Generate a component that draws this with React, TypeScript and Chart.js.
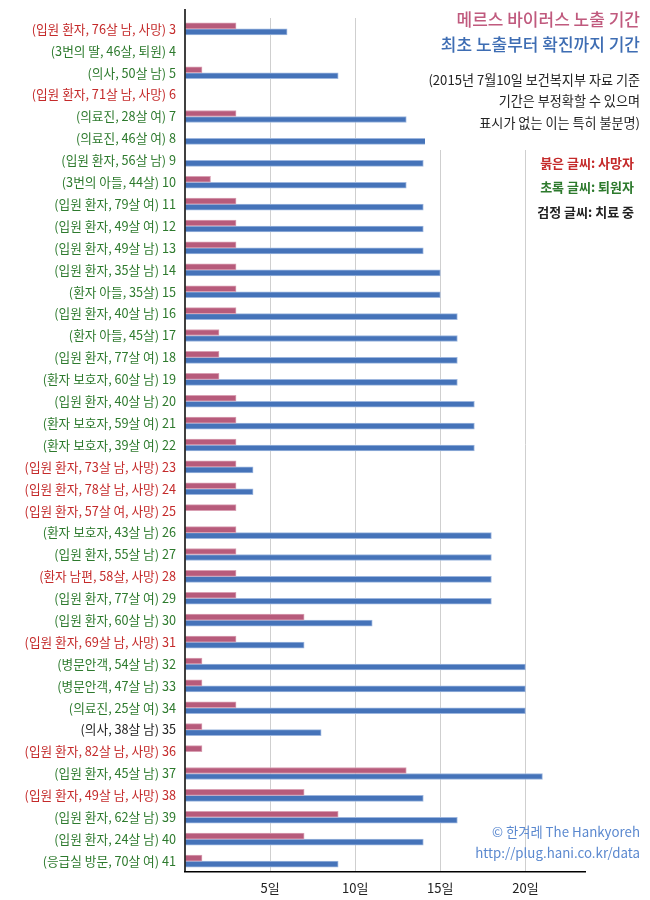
import React, { useEffect, useRef } from "react";
import { Chart, registerables } from "chart.js";

Chart.register(...registerables);

const caseNumbers = [3,4,5,6,7,8,9,10,11,12,13,14,15,16,17,18,19,20,21,22,23,24,25,26,27,28,29,30,31,32,33,34,35,36,37,38,39,40,41];
const descriptions = [
  "(입원 환자, 76살 남, 사망)", "(3번의 딸, 46살, 퇴원)", "(의사, 50살 남)", "(입원 환자, 71살 남, 사망)",
  "(의료진, 28살 여)", "(의료진, 46살 여)", "(입원 환자, 56살 남)", "(3번의 아들, 44살)",
  "(입원 환자, 79살 여)", "(입원 환자, 49살 여)", "(입원 환자, 49살 남)", "(입원 환자, 35살 남)",
  "(환자 아들, 35살)", "(입원 환자, 40살 남)", "(환자 아들, 45살)", "(입원 환자, 77살 여)",
  "(환자 보호자, 60살 남)", "(입원 환자, 40살 남)", "(환자 보호자, 59살 여)", "(환자 보호자, 39살 여)",
  "(입원 환자, 73살 남, 사망)", "(입원 환자, 78살 남, 사망)", "(입원 환자, 57살 여, 사망)", "(환자 보호자, 43살 남)",
  "(입원 환자, 55살 남)", "(환자 남편, 58살, 사망)", "(입원 환자, 77살 여)", "(입원 환자, 60살 남)",
  "(입원 환자, 69살 남, 사망)", "(병문안객, 54살 남)", "(병문안객, 47살 남)", "(의료진, 25살 여)",
  "(의사, 38살 남)", "(입원 환자, 82살 남, 사망)", "(입원 환자, 45살 남)", "(입원 환자, 49살 남, 사망)",
  "(입원 환자, 62살 남)", "(입원 환자, 24살 남)", "(응급실 방문, 70살 여)",
];
// d = 사망자 (red), r = 퇴원자 (green), t = 치료 중 (black)
const statuses = [
  "d","r","r","d","r","r","r","r","r","r","r","r","r","r","r","r","r","r","r","r",
  "d","d","d","r","r","d","r","r","d","r","r","r","t","d","r","d","r","r","r",
];
const exposureDays = [3,null,1,null,3,null,null,1.5,3,3,3,3,3,3,2,2,2,3,3,3,3,3,3,3,3,3,3,7,3,1,1,3,1,1,13,7,9,7,1];
const confirmDays = [6,null,9,null,13,17,14,13,14,14,14,15,15,16,16,16,16,17,17,17,4,4,null,18,18,18,18,11,7,20,20,20,8,null,21,14,16,14,9];
const xTicks = [0, 5, 10, 15, 20];

const seriesNames = ["메르스 바이러스 노출 기간", "최초 노출부터 확진까지 기간"];
const noteLines = ["(2015년 7월10일 보건복지부 자료 기준", "기간은 부정확할 수 있으며", "표시가 없는 이는 특히 불분명)"];
const legendLines = ["붉은 글씨: 사망자", "초록 글씨: 퇴원자", "검정 글씨: 치료 중"];
const creditLines = ["© 한겨레 The Hankyoreh", "http://plug.hani.co.kr/data"];

const statusColor: Record<string, string> = { d: "#c42a2a", r: "#2d7a2d", t: "#222222" };
const FONT = "'Noto Sans CJK KR', 'Noto Sans', sans-serif";

const overlayPlugin = {
  id: "overlay",
  afterDraw(chart: any) {
    const ctx = chart.ctx;
    const area = chart.chartArea;
    ctx.save();
    // left axis line
    ctx.strokeStyle = "#000";
    ctx.lineWidth = 1.5;
    ctx.beginPath();
    ctx.moveTo(area.left, 9);
    ctx.lineTo(area.left, area.bottom);
    ctx.stroke();
    // white box behind the notes
    ctx.fillStyle = "#fff";
    ctx.fillRect(425, 0, 225, 150);
    ctx.textAlign = "right";
    ctx.textBaseline = "middle";
    ctx.font = `500 17px ${FONT}`;
    ctx.fillStyle = "#c05a7e";
    ctx.fillText(seriesNames[0], 640, 20);
    ctx.fillStyle = "#3e6db3";
    ctx.fillText(seriesNames[1], 640, 45);
    ctx.font = `13.1px ${FONT}`;
    ctx.fillStyle = "#222";
    noteLines.forEach((t, i) => ctx.fillText(t, 640, 80 + i * 21.5));
    ctx.font = `bold 13px ${FONT}`;
    const lc = ["#c42a2a", "#2d7a2d", "#222"];
    legendLines.forEach((t, i) => {
      ctx.fillStyle = lc[i];
      ctx.fillText(t, 634, 163 + i * 24.5);
    });
    ctx.font = `13.3px ${FONT}`;
    ctx.fillStyle = "#5a88cf";
    creditLines.forEach((t, i) => ctx.fillText(t, 640, 832 + i * 21));
    ctx.restore();
  },
};

export default function App() {
  const ref = useRef<HTMLCanvasElement>(null);
  useEffect(() => {
    const labels = caseNumbers.map((n, i) => `${descriptions[i]} ${n}`);
    const chart = new Chart(ref.current as HTMLCanvasElement, {
      type: "bar",
      data: {
        labels,
        datasets: [
          {
            label: seriesNames[0],
            data: exposureDays as any,
            backgroundColor: "#b75b7b",
            borderColor: "#d9a0b3",
            borderWidth: 1,
            barThickness: 6,
          },
          {
            label: seriesNames[1],
            data: confirmDays as any,
            backgroundColor: "#4573b9",
            borderColor: "#9db6de",
            borderWidth: 1,
            barThickness: 6,
          },
        ],
      },
      options: {
        indexAxis: "y",
        animation: false,
        responsive: false,
        layout: { padding: { top: 18, right: 65, left: 0, bottom: 0 } },
        plugins: { legend: { display: false }, tooltip: { enabled: false } },
        scales: {
          x: {
            min: 0,
            max: 23.5,
            afterBuildTicks: (s: any) => {
              s.ticks = xTicks.map((v) => ({ value: v }));
            },
            afterFit: (s: any) => {
              s.height = 28;
            },
            border: { display: true, color: "#000", width: 1.5 },
            grid: {
              color: (c: any) => (c.tick && c.tick.value === 0 ? "rgba(0,0,0,0)" : "#cfcfcf"),
              lineWidth: 1,
              drawTicks: false,
            },
            ticks: {
              padding: 8,
              color: "#222",
              font: { family: FONT, size: 13 },
              callback: (v: any) => (v === 0 ? "" : `${v}일`),
            },
          },
          y: {
            afterFit: (s: any) => {
              s.width = 185;
            },
            border: { display: false },
            grid: { display: false, drawTicks: false },
            ticks: {
              padding: 9,
              autoSkip: false,
              color: (c: any) => statusColor[statuses[c.index]],
              font: { family: FONT, size: 12.7 },
            },
          },
        },
      },
      plugins: [overlayPlugin],
    });
    return () => chart.destroy();
  }, []);
  return (
    <div style={{ position: "fixed", left: 0, top: 0, width: 650, height: 900, background: "#fff" }}>
      <canvas ref={ref} width={650} height={900} style={{ width: 650, height: 900 }} />
    </div>
  );
}
